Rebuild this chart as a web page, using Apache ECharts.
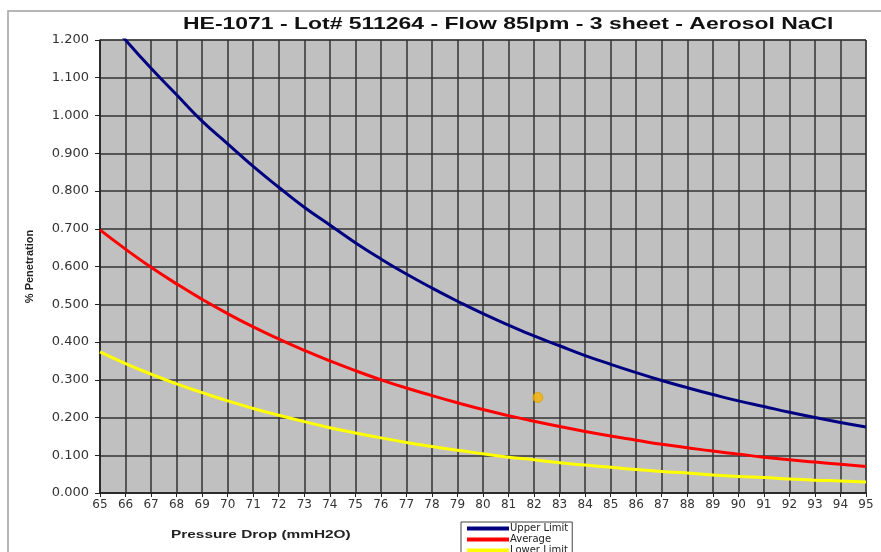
<!DOCTYPE html>
<html>
<head>
<meta charset="utf-8">
<script src="https://cdn.jsdelivr.net/npm/echarts@6/dist/echarts.min.js"></script>
<style>
  html, body { margin: 0; padding: 0; background: #fff; }
  #main { width: 881px; height: 552px; }
</style>
</head>
<body>
<div id="main"></div>
<script>
// pressure drop (mmH2O)
var pressure = [65, 66, 67, 68, 69, 70, 71, 72, 73, 74, 75, 76, 77, 78, 79, 80,
    81, 82, 83, 84, 85, 86, 87, 88, 89, 90, 91, 92, 93, 94, 95];

var upperLimit = [1.280, 1.200, 1.125, 1.055, 0.985, 0.925, 0.865, 0.810, 0.757, 0.710,
    0.663, 0.620, 0.580, 0.543, 0.508, 0.475, 0.445, 0.416, 0.390, 0.364,
    0.341, 0.319, 0.298, 0.279, 0.261, 0.244, 0.229, 0.214, 0.200, 0.187, 0.175];

var average = [0.697, 0.646, 0.598, 0.554, 0.513, 0.475, 0.440, 0.408, 0.378, 0.350,
    0.324, 0.300, 0.278, 0.258, 0.239, 0.221, 0.205, 0.190, 0.176, 0.163,
    0.151, 0.140, 0.129, 0.120, 0.111, 0.103, 0.095, 0.088, 0.082, 0.076, 0.070];

var lowerLimit = [0.374, 0.343, 0.315, 0.289, 0.266, 0.244, 0.224, 0.206, 0.189, 0.173,
    0.159, 0.146, 0.134, 0.123, 0.113, 0.104, 0.095, 0.088, 0.080, 0.074,
    0.068, 0.062, 0.057, 0.053, 0.048, 0.044, 0.041, 0.037, 0.034, 0.032, 0.029];

// measured sample
var sample = [[82.15, 0.253]];

function pairs(ys) {
    return pressure.map(function (x, i) { return [x, ys[i]]; });
}

var chartDom = document.getElementById('main');
var myChart = echarts.init(chartDom, null, { renderer: 'canvas' });
var option;

var lineSeries = function (name, color, ys) {
    return {
        name: name,
        type: 'line',
        data: pairs(ys),
        smooth: true,
        showSymbol: false,
        clip: true,
        itemStyle: { color: color },
        lineStyle: { color: color, width: 3 },
        z: 3
    };
};

var wideFont = 'DejaVu Sans, Verdana, sans-serif';
var arial = 'Liberation Sans, Arial, sans-serif';

option = {
    backgroundColor: '#ffffff',
    animation: false,
    textStyle: { fontFamily: wideFont },
    graphic: [
        {
            type: 'rect',
            shape: { x: 8, y: 11, width: 900, height: 600 },
            style: { fill: 'none', stroke: '#a0a0a0', lineWidth: 1.5 },
            z: -1
        },
        {
            // title, stretched like the original
            type: 'text',
            x: 183,
            y: 16,
            scaleX: 1.35,
            style: {
                text: 'HE-1071 - Lot# 511264 - Flow 85lpm - 3 sheet - Aerosol NaCl',
                fontSize: 17,
                fontWeight: 'bold',
                fill: '#111',
                fontFamily: arial,
                verticalAlign: 'top'
            }
        },
        {
            type: 'text',
            x: 171,
            y: 529,
            scaleX: 1.4,
            style: {
                text: 'Pressure Drop (mmH2O)',
                fontSize: 11,
                fontWeight: 'bold',
                fill: '#222',
                fontFamily: arial,
                verticalAlign: 'top'
            }
        }
    ],
    legend: {
        orient: 'vertical',
        left: 461,
        top: 522,
        height: 40,
        padding: [1, 4, 2, 6],
        itemGap: 0,
        itemWidth: 42,
        itemHeight: 4,
        icon: 'rect',
        borderColor: '#444',
        borderWidth: 1,
        backgroundColor: '#fff',
        textStyle: { fontSize: 10, color: '#222', lineHeight: 11, padding: [0, 0, 0, -4] },
        data: ['Upper Limit', 'Average', 'Lower Limit']
    },
    grid: {
        left: 100,
        right: 15,
        top: 40,
        bottom: 59,
        show: true,
        backgroundColor: '#c0c0c0',
        borderColor: '#555',
        borderWidth: 1
    },
    xAxis: {
        type: 'value',
        min: 65,
        max: 95,
        interval: 1,
        axisLine: { show: true, onZero: false, lineStyle: { color: '#222', width: 1.5 } },
        axisTick: { show: true, length: 4, lineStyle: { color: '#222' } },
        axisLabel: { fontSize: 12, color: '#333', margin: 6 },
        splitLine: { show: true, lineStyle: { color: '#333', width: 1.5 } }
    },
    yAxis: {
        type: 'value',
        min: 0,
        max: 1.2,
        interval: 0.1,
        name: '% Penetration',
        nameLocation: 'middle',
        nameGap: 65,
        nameTextStyle: { fontSize: 11, fontWeight: 'bold', color: '#222', fontFamily: arial },
        axisLine: { show: true, lineStyle: { color: '#222', width: 1.5 } },
        axisTick: { show: true, length: 5, lineStyle: { color: '#222' } },
        axisLabel: {
            fontSize: 13,
            color: '#333',
            margin: 11,
            formatter: function (v) { return v.toFixed(3); }
        },
        splitLine: { show: true, lineStyle: { color: '#333', width: 1.5 } }
    },
    series: [
        lineSeries('Upper Limit', '#000080', upperLimit),
        lineSeries('Average', '#ff0000', average),
        lineSeries('Lower Limit', '#ffff00', lowerLimit),
        {
            name: 'Sample',
            type: 'scatter',
            data: sample,
            symbolSize: 10,
            itemStyle: { color: '#f5b400', borderColor: '#e0a000', borderWidth: 1 },
            z: 4
        }
    ]
};

option && myChart.setOption(option);
</script>
</body>
</html>
